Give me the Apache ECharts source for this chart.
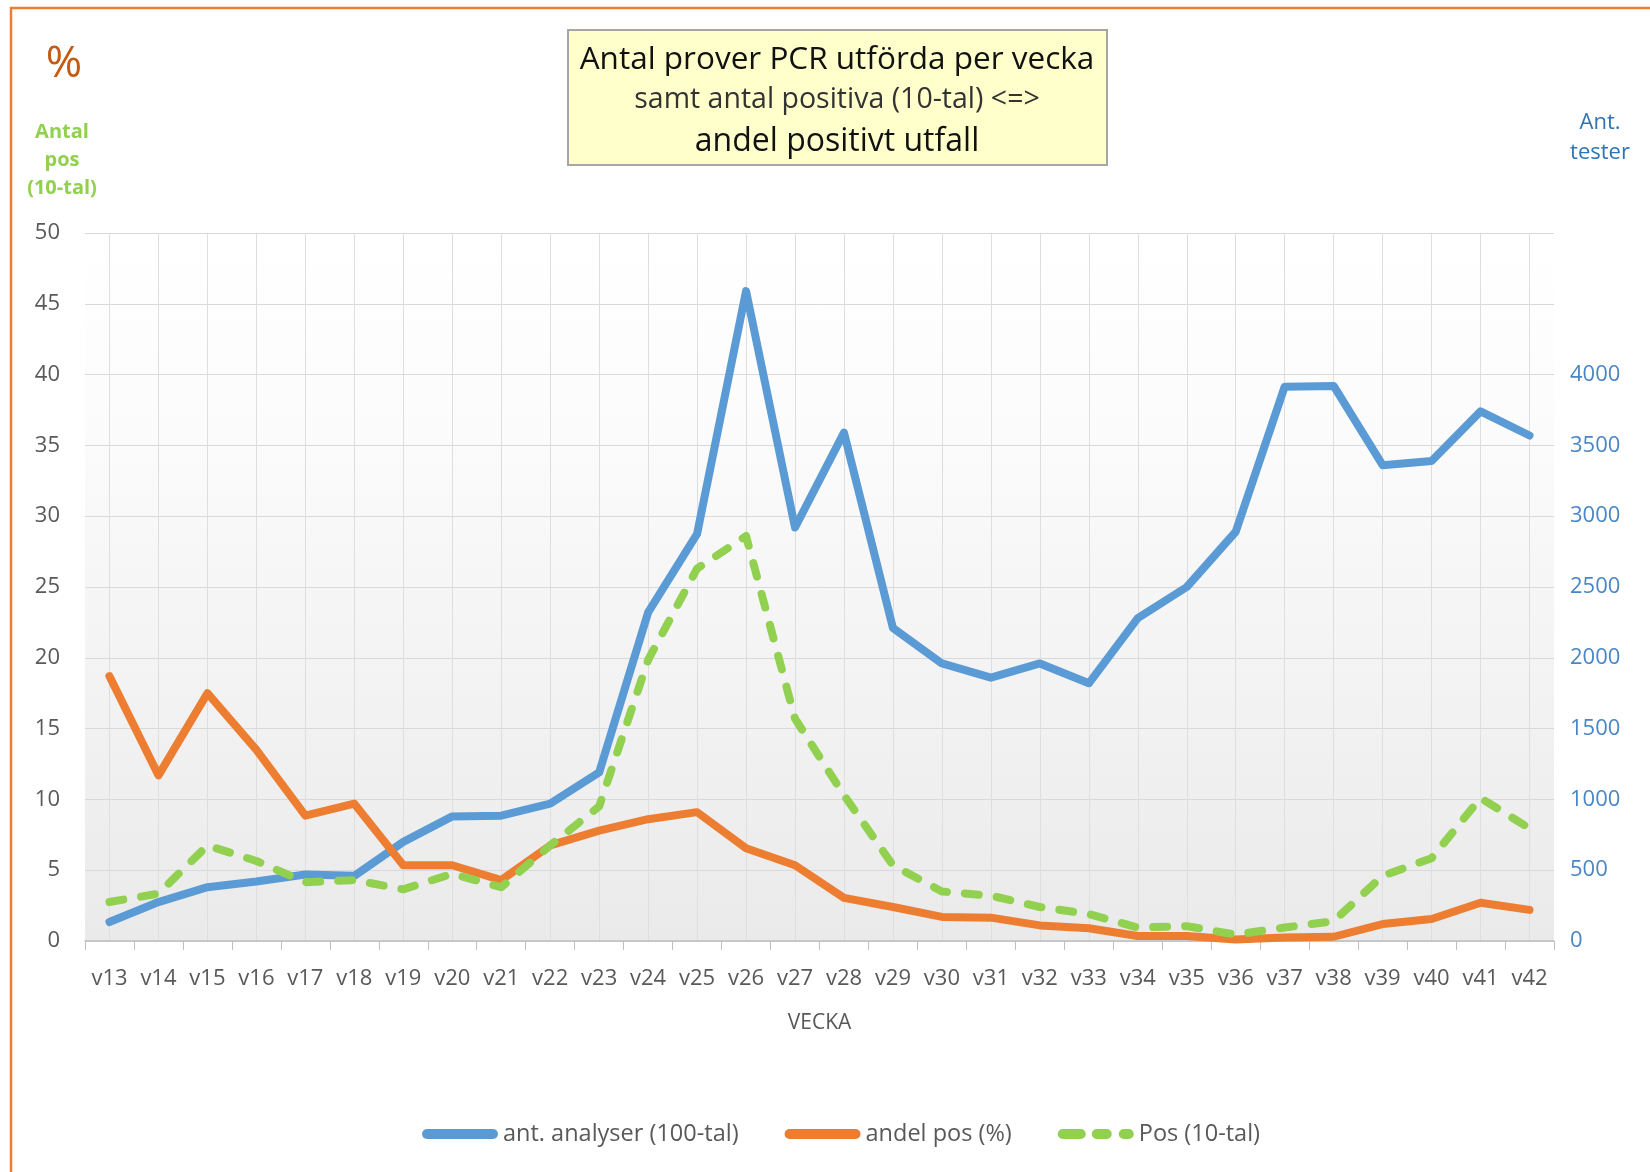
<!DOCTYPE html>
<html>
<head>
<meta charset="utf-8">
<script src="https://cdn.jsdelivr.net/npm/echarts@6/dist/echarts.min.js"></script>
<style>
    html, body { margin: 0; padding: 0; background: #fff; }
    #chart { width: 1650px; height: 1172px; }
</style>
</head>
<body>
<div id="chart"></div>
<script>
var weeks = ['v13', 'v14', 'v15', 'v16', 'v17', 'v18', 'v19', 'v20', 'v21', 'v22', 'v23', 'v24', 'v25', 'v26', 'v27',
    'v28', 'v29', 'v30', 'v31', 'v32', 'v33', 'v34', 'v35', 'v36', 'v37', 'v38', 'v39', 'v40', 'v41', 'v42'];
// antal tester (höger axel)
var analyser = [134, 275, 380, 420, 470, 460, 700, 880, 885, 970, 1190, 2320, 2875, 4590, 2920,
    3590, 2210, 1960, 1860, 1960, 1820, 2280, 2500, 2890, 3915, 3920, 3360, 3390, 3740, 3570];
// andel positiva (%)
var andelPos = [18.7, 11.7, 17.5, 13.5, 8.85, 9.7, 5.35, 5.35, 4.3, 6.75, 7.8, 8.6, 9.1, 6.55, 5.35,
    3.05, 2.4, 1.7, 1.65, 1.1, 0.9, 0.35, 0.35, 0.1, 0.25, 0.3, 1.2, 1.55, 2.7, 2.2];
// antal positiva (10-tal)
var pos10 = [2.75, 3.35, 6.75, 5.65, 4.15, 4.3, 3.65, 4.75, 3.8, 6.75, 9.5, 19.85, 26.3, 28.6, 15.7,
    10.3, 5.35, 3.5, 3.2, 2.4, 1.9, 0.95, 1.05, 0.45, 0.95, 1.4, 4.6, 5.85, 10.1, 7.95];

var FONT = '"Open Sans", "Noto Sans", sans-serif';
var GRAY = '#595959';

// legend-ikoner: hel "pill" resp. streckad
var pillIcon = 'path://M5,0 H71 A5,5 0 0 1 71,10 H5 A5,5 0 0 1 5,0 Z';
var dashIcon = 'path://M5,0 H23 A5,5 0 0 1 23,10 H5 A5,5 0 0 1 5,0 Z'
    + ' M39,0 H49 A5,5 0 0 1 49,10 H39 A5,5 0 0 1 39,0 Z'
    + ' M66,0 H71 A5,5 0 0 1 71,10 H66 A5,5 0 0 1 66,0 Z';

var chart = echarts.init(document.getElementById('chart'));
var option = {
    backgroundColor: '#fff',
    animation: false,
    grid: {
        left: 85,
        right: 96,
        top: 233,
        bottom: 231,
        show: true,
        borderWidth: 0,
        backgroundColor: {
            type: 'linear', x: 0, y: 0, x2: 0, y2: 1,
            colorStops: [
                { offset: 0, color: '#ffffff' },
                { offset: 0.25, color: '#fcfcfc' },
                { offset: 1, color: '#eaeaea' }
            ]
        }
    },
    legend: {
        left: 417,
        top: 1117,
        itemWidth: 76,
        itemHeight: 10,
        itemGap: 46,
        textStyle: { color: GRAY, fontSize: 23.5, fontFamily: FONT },
        data: [
            { name: 'ant. analyser (100-tal)', icon: pillIcon },
            { name: 'andel pos (%)', icon: pillIcon },
            { name: 'Pos (10-tal)', icon: dashIcon }
        ]
    },
    xAxis: [
        {
            type: 'category',
            boundaryGap: true,
            data: weeks,
            name: 'VECKA',
            nameLocation: 'middle',
            nameGap: 72,
            nameTextStyle: { color: GRAY, fontSize: 21, fontFamily: FONT },
            axisLine: { lineStyle: { color: '#bfbfbf', width: 1.5 } },
            axisTick: { show: true, length: 9, lineStyle: { color: '#bfbfbf' } },
            axisLabel: { color: GRAY, fontSize: 22, margin: 27, interval: 0, fontFamily: FONT },
            splitLine: { show: true, interval: 0, alignWithLabel: true, lineStyle: { color: '#dedede', width: 1 } }
        }
    ],
    yAxis: [
        {
            type: 'value',
            min: 0,
            max: 50,
            interval: 5,
            axisLine: { show: false },
            axisTick: { show: false },
            axisLabel: { color: GRAY, fontSize: 22, margin: 25, fontFamily: FONT },
            splitLine: { lineStyle: { color: '#d9d9d9', width: 1 } }
        },
        {
            type: 'value',
            min: 0,
            max: 5000,
            interval: 500,
            position: 'right',
            axisLine: { show: false },
            axisTick: { show: false },
            axisLabel: {
                color: '#4a86c5', fontSize: 22, margin: 16, fontFamily: FONT,
                formatter: function (v) { return v > 4000 ? '' : v; }
            },
            splitLine: { show: false }
        }
    ],
    series: [
        {
            name: 'ant. analyser (100-tal)',
            type: 'line',
            yAxisIndex: 1,
            data: analyser,
            symbol: 'none',
            lineStyle: { color: '#5B9BD5', width: 8, cap: 'round', join: 'round' },
            itemStyle: { color: '#5B9BD5' }
        },
        {
            name: 'andel pos (%)',
            type: 'line',
            data: andelPos,
            symbol: 'none',
            lineStyle: { color: '#ED7D31', width: 8, cap: 'round', join: 'round' },
            itemStyle: { color: '#ED7D31' }
        },
        {
            name: 'Pos (10-tal)',
            type: 'line',
            data: pos10,
            symbol: 'none',
            lineStyle: { color: '#92D050', width: 8, type: [14, 18], cap: 'round', join: 'round' },
            itemStyle: { color: '#92D050' }
        }
    ],
    graphic: [
        {
            type: 'rect',
            silent: true,
            shape: { x: 11, y: 8, width: 1700, height: 1300 },
            style: { fill: 'none', stroke: '#ED7D31', lineWidth: 2.5 }
        },
        {
            type: 'rect',
            shape: { x: 568, y: 30, width: 539, height: 135 },
            style: { fill: '#FFFFCC', stroke: '#a6a6a6', lineWidth: 2 }
        },
        {
            type: 'text',
            style: { text: 'Antal prover PCR utförda per vecka', x: 837, y: 60, align: 'center', verticalAlign: 'middle',
                fill: '#111', font: '31.5px ' + FONT }
        },
        {
            type: 'text',
            style: { text: 'samt antal positiva (10-tal) <=>', x: 837, y: 100, align: 'center', verticalAlign: 'middle',
                fill: '#333', font: '28.5px ' + FONT }
        },
        {
            type: 'text',
            style: { text: 'andel positivt utfall', x: 837, y: 142, align: 'center', verticalAlign: 'middle',
                fill: '#111', font: '32px ' + FONT }
        },
        {
            type: 'text',
            style: { text: '%', x: 64, y: 64, align: 'center', verticalAlign: 'middle',
                fill: '#C55A11', font: '44px ' + FONT }
        },
        {
            type: 'text',
            style: { text: 'Antal\npos\n(10-tal)', x: 62, y: 160, align: 'center', verticalAlign: 'middle',
                lineHeight: 28, fill: '#92D050', font: 'bold 20px ' + FONT }
        },
        {
            type: 'text',
            style: { text: 'Ant.\ntester', x: 1600, y: 138, align: 'center', verticalAlign: 'middle',
                lineHeight: 30, fill: '#2E75B6', font: '22px ' + FONT }
        }
    ]
};
chart.setOption(option);
</script>
</body>
</html>
